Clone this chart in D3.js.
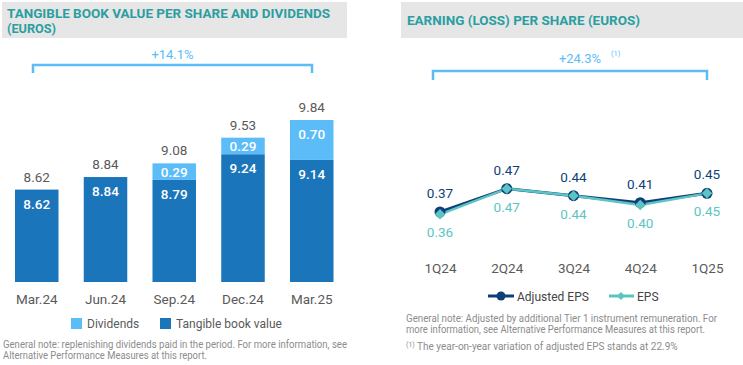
<!DOCTYPE html>
<html><head><meta charset="utf-8">
<script src="https://cdn.jsdelivr.net/npm/d3@7"></script>
<style>body{margin:0;background:#fff}svg{display:block;font-family:Roboto,"Open Sans",sans-serif}</style>
</head><body>
<svg id="c" width="743" height="365"></svg>
<script>
const periods = ["Mar.24","Jun.24","Sep.24","Dec.24","Mar.25"];
const tangibleBV = [8.62,8.84,8.79,9.24,9.14];
const dividends = [0,0,0.29,0.29,0.70];
const totals = [8.62,8.84,9.08,9.53,9.84];
const quarters = ["1Q24","2Q24","3Q24","4Q24","1Q25"];
const adjustedEPS = [0.37,0.47,0.44,0.41,0.45];
const eps = [0.36,0.47,0.44,0.40,0.45];

const C = {dark:"#1b75bb", light:"#5bbcf8", title:"#2a9ea0", bg:"#e6e6e6", text:"#5a5a5a", note:"#8c8c8c", navy:"#0f3f78", teal:"#5cc5c3"};
const svg = d3.select("#c");

function fit(sel, w){ sel.attr("textLength", w).attr("lengthAdjust","spacingAndGlyphs"); return sel; }

// ---------- Left panel ----------
svg.append("rect").attr("x",2).attr("y",2).attr("width",345).attr("height",36).attr("fill",C.bg);
fit(svg.append("text").attr("x",7).attr("y",18).attr("fill",C.title).attr("font-size",13).attr("font-weight",700)
  .text("TANGIBLE BOOK VALUE PER SHARE AND DIVIDENDS"),323);
fit(svg.append("text").attr("x",7).attr("y",33).attr("fill",C.title).attr("font-size",13).attr("font-weight",700)
  .text("(EUROS)"),49);

const x1 = d3.scaleBand().domain(periods).range([1.25,347.25]).paddingInner(0.367).paddingOuter(0.2);
const y1 = d3.scaleLinear().domain([7.0,9.84]).range([282,120]);
const g1 = svg.append("g");

// bracket
const bx0 = 33, bx1 = 312;
svg.append("path").attr("d",`M${bx0},73V65H${bx1}V73`).attr("fill","none").attr("stroke",C.light).attr("stroke-width",2.5);
svg.append("text").attr("x",(bx0+bx1)/2).attr("y",59).attr("text-anchor","middle").attr("fill",C.light).attr("font-size",13).text("+14.1%");

periods.forEach((p,i)=>{
  const bx = x1(p), bw = x1.bandwidth(), cx = bx + bw/2;
  const tTop = y1(tangibleBV[i]);
  g1.append("rect").attr("x",bx).attr("y",tTop).attr("width",bw).attr("height",y1.range()[0]-tTop).attr("fill",C.dark);
  g1.append("text").attr("x",cx).attr("y",tTop+14+5).attr("text-anchor","middle").attr("fill","#fff").attr("font-size",13.5).attr("font-weight",500).text(tangibleBV[i].toFixed(2));
  if(dividends[i]>0){
    const dTop = y1(tangibleBV[i]+dividends[i]);
    const dh = tTop - dTop;
    g1.append("rect").attr("x",bx).attr("y",dTop).attr("width",bw).attr("height",dh).attr("fill",C.light);
    g1.append("text").attr("x",cx).attr("y",dTop+Math.min(14,dh/2)+5).attr("text-anchor","middle").attr("fill","#fff").attr("font-size",13.5).attr("font-weight",500).text(dividends[i].toFixed(2));
  }
  g1.append("text").attr("x",cx).attr("y",y1(totals[i])-8).attr("text-anchor","middle").attr("fill",C.text).attr("font-size",13.5).text(totals[i].toFixed(2));
});
const ax1 = svg.append("g").attr("transform","translate(0,282)").call(d3.axisBottom(x1).tickSize(0).tickPadding(12));
ax1.select(".domain").remove();
ax1.selectAll("text").attr("font-size",13.5).attr("fill",C.text).attr("font-family","Roboto,sans-serif");

// legend left
svg.append("rect").attr("x",71).attr("y",318).attr("width",11).attr("height",11).attr("fill",C.light);
svg.append("text").attr("x",87).attr("y",328).attr("font-size",12).attr("fill",C.text).text("Dividends");
svg.append("rect").attr("x",160).attr("y",318).attr("width",11).attr("height",11).attr("fill",C.dark);
svg.append("text").attr("x",176).attr("y",328).attr("font-size",12).attr("fill",C.text).text("Tangible book value");

fit(svg.append("text").attr("x",3).attr("y",348).attr("font-size",10).attr("fill",C.note)
  .text("General note: replenishing dividends paid in the period. For more information, see"),344);
fit(svg.append("text").attr("x",3).attr("y",359).attr("font-size",10).attr("fill",C.note)
  .text("Alternative Performance Measures at this report."),204);

// ---------- Right panel ----------
svg.append("rect").attr("x",401).attr("y",2).attr("width",342).attr("height",36).attr("fill",C.bg);
fit(svg.append("text").attr("x",407).attr("y",25).attr("fill",C.title).attr("font-size",13).attr("font-weight",700)
  .text("EARNING (LOSS) PER SHARE (EUROS)"),233);

const x2 = d3.scalePoint().domain(quarters).range([440,707]);
const y2 = d3.scaleLinear().domain([0.37,0.47]).range([212,188.7]);

const rb0 = 433, rb1 = 707;
svg.append("path").attr("d",`M${rb0},80V71H${rb1}V80`).attr("fill","none").attr("stroke",C.light).attr("stroke-width",2.5);
svg.append("text").attr("x",580).attr("y",63).attr("text-anchor","middle").attr("fill",C.light).attr("font-size",13).text("+24.3%");
svg.append("text").attr("x",611).attr("y",56).attr("fill",C.light).attr("font-size",7.5).text("(1)");

const line = d3.line().x((d,i)=>x2(quarters[i])).y(d=>y2(d));
svg.append("path").datum(adjustedEPS).attr("d",line).attr("fill","none").attr("stroke",C.navy).attr("stroke-width",3);
svg.append("path").datum(eps).attr("d",line).attr("fill","none").attr("stroke",C.teal).attr("stroke-width",2.5);
adjustedEPS.forEach((v,i)=>{
  svg.append("circle").attr("cx",x2(quarters[i])).attr("cy",y2(v)).attr("r",5.5).attr("fill",C.navy);
});
const diamond = d3.symbol().type(d3.symbolDiamond2).size(70);
eps.forEach((v,i)=>{
  svg.append("path").attr("d",diamond).attr("transform",`translate(${x2(quarters[i])},${y2(v)})`).attr("fill",C.teal);
});
adjustedEPS.forEach((v,i)=>{
  svg.append("text").attr("x",x2(quarters[i])).attr("y",y2(v)-14).attr("text-anchor","middle").attr("fill",C.navy).attr("font-size",13.5).text(v.toFixed(2));
});
eps.forEach((v,i)=>{
  svg.append("text").attr("x",x2(quarters[i])).attr("y",y2(v)+23).attr("text-anchor","middle").attr("fill",C.teal).attr("font-size",13.5).text(v.toFixed(2));
});
const ax2 = svg.append("g").attr("transform","translate(0,258)").call(d3.axisBottom(x2).tickSize(0).tickPadding(5));
ax2.select(".domain").remove();
ax2.selectAll("text").attr("font-size",13.5).attr("fill",C.text).attr("font-family","Roboto,sans-serif");

// legend right
svg.append("line").attr("x1",488).attr("x2",514).attr("y1",296).attr("y2",296).attr("stroke",C.navy).attr("stroke-width",3);
svg.append("circle").attr("cx",501).attr("cy",296).attr("r",4.5).attr("fill",C.navy);
svg.append("text").attr("x",517).attr("y",300.5).attr("font-size",12).attr("fill","#444").text("Adjusted EPS");
svg.append("line").attr("x1",609).attr("x2",634).attr("y1",296).attr("y2",296).attr("stroke",C.teal).attr("stroke-width",3);
svg.append("path").attr("d",d3.symbol().type(d3.symbolDiamond2).size(40)).attr("transform","translate(621,296)").attr("fill",C.teal);
svg.append("text").attr("x",637).attr("y",300.5).attr("font-size",12).attr("fill","#444").text("EPS");

fit(svg.append("text").attr("x",406).attr("y",322).attr("font-size",10).attr("fill",C.note)
  .text("General note: Adjusted by additional Tier 1 instrument remuneration. For"),311);
fit(svg.append("text").attr("x",406).attr("y",333).attr("font-size",10).attr("fill",C.note)
  .text("more information, see Alternative Performance Measures at this report."),299);
const fn = svg.append("text").attr("x",406).attr("y",350).attr("font-size",10).attr("fill",C.note);
fn.append("tspan").attr("font-size",7).attr("dy",-3).text("(1)");
fn.append("tspan").attr("dy",3).text(" The year-on-year variation of adjusted EPS stands at 22.9%");
</script>
</body></html>
